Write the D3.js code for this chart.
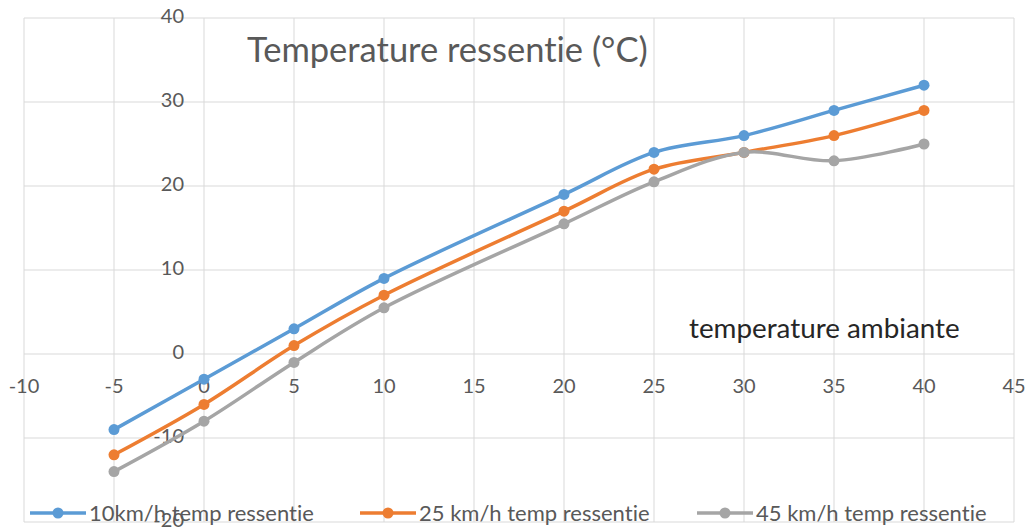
<!DOCTYPE html>
<html>
<head>
<meta charset="utf-8">
<script src="https://cdn.jsdelivr.net/npm/d3@7"></script>
<style>
  body { margin: 0; background: #fff; }
  svg { font-family: Lato, "Open Sans", sans-serif; font-variant-ligatures: none; }
  .grid line { stroke: #d9d9d9; stroke-width: 1; }
  .tick-label { fill: #595959; font-size: 20px; }
</style>
</head>
<body>
<svg width="1031" height="528"></svg>
<script>
// ambient temperature (x) and felt temperature per wind speed
const ambient = [-5, 0, 5, 10, 20, 25, 30, 35, 40];
const wind10 = [-9, -3, 3, 9, 19, 24, 26, 29, 32];
const wind25 = [-12, -6, 1, 7, 17, 22, 24, 26, 29];
const wind45 = [-14, -8, -1, 5.5, 15.5, 20.5, 24, 23, 25];
const seriesNames = ["10km/h temp ressentie", "25 km/h temp ressentie", "45 km/h temp ressentie"];
const seriesColors = ["#5B9BD5", "#ED7D31", "#A5A5A5"];
const xTicks = [-10, -5, 0, 5, 10, 15, 20, 25, 30, 35, 40, 45];
const yTicks = [-20, -10, 0, 10, 20, 30, 40];

const svg = d3.select("svg");
const x = d3.scaleLinear().domain([-10, 45]).range([24, 1014]);
const y = d3.scaleLinear().domain([-20, 40]).range([522, 18]);

// grid
let grid = svg.append("g").attr("class", "grid");
xTicks.map(t => {
    grid.append("line")
        .attr("x1", x(t)).attr("x2", x(t))
        .attr("y1", y(40)).attr("y2", y(-20));
});
yTicks.map(t => {
    grid.append("line")
        .attr("x1", x(-10)).attr("x2", x(45))
        .attr("y1", y(t)).attr("y2", y(t));
});

// tick labels (axes cross at 0)
let labels = svg.append("g");
xTicks.map(t => {
    labels.append("text")
        .attr("class", "tick-label")
        .attr("x", x(t))
        .attr("y", y(0) + 39)
        .attr("text-anchor", "middle")
        .text(t);
});
yTicks.map(t => {
    labels.append("text")
        .attr("class", "tick-label")
        .attr("x", x(0) - 20)
        .attr("y", y(t) + 5)
        .attr("text-anchor", "end")
        .text(t);
});

// titles
svg.append("text")
    .attr("x", 247).attr("y", 62)
    .attr("fill", "#595959")
    .style("font-size", "34.5px")
    .text("Temperature ressentie (°C)");
svg.append("text")
    .attr("x", 689).attr("y", 338)
    .attr("fill", "#262626")
    .style("font-size", "27.8px")
    .text("temperature ambiante");

// lines
const allSeries = [wind10, wind25, wind45];
const line = d3.line()
    .x((d, i) => x(ambient[i]))
    .y(d => y(d))
    .curve(d3.curveCatmullRom.alpha(0.5));
allSeries.map((s, k) => {
    svg.append("path")
        .datum(s)
        .attr("fill", "none")
        .attr("stroke", seriesColors[k])
        .attr("stroke-width", 3.5)
        .attr("stroke-linecap", "round")
        .attr("d", line);
    svg.append("g").selectAll("circle")
        .data(s)
        .enter().append("circle")
        .attr("cx", (d, i) => x(ambient[i]))
        .attr("cy", d => y(d))
        .attr("r", 5.5)
        .attr("fill", seriesColors[k]);
});

// legend
const legendX = [30, 360, 697];
let legend = svg.append("g");
seriesNames.map((n, k) => {
    legend.append("line")
        .attr("x1", legendX[k]).attr("x2", legendX[k] + 56)
        .attr("y1", 513).attr("y2", 513)
        .attr("stroke", seriesColors[k])
        .attr("stroke-width", 3.5);
    legend.append("circle")
        .attr("cx", legendX[k] + 28).attr("cy", 513)
        .attr("r", 5.5)
        .attr("fill", seriesColors[k]);
    legend.append("text")
        .attr("x", legendX[k] + 59).attr("y", 521)
        .attr("fill", "#595959")
        .style("font-size", "22px")
        .text(n);
});
</script>
</body>
</html>
